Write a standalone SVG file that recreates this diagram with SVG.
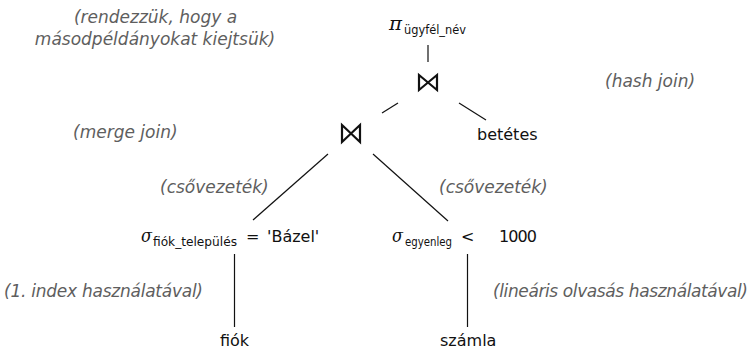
<svg xmlns="http://www.w3.org/2000/svg" width="751" height="349" viewBox="0 0 751 349">
<style>
.n{font-family:"DejaVu Sans",sans-serif;font-size:16px;fill:#111}
.m{font-family:"DejaVu Serif",serif;font-style:italic;font-size:19px;fill:#111}
.s{font-family:"DejaVu Sans",sans-serif;font-size:12.5px;fill:#111}
.a{font-family:"DejaVu Sans",sans-serif;font-style:oblique;font-size:17px;fill:#5e5e5e}
.c{stroke:#111;stroke-width:1.2;fill:none}
.j{stroke:#111;stroke-width:2.2;fill:none;stroke-linejoin:miter}
</style>
<rect width="751" height="349" fill="#fff"/>
<g id="connectors">
<line class="c" x1="428" y1="45" x2="428" y2="62"/>
<line class="c" x1="398" y1="103" x2="382" y2="113"/>
<line class="c" x1="459" y1="103" x2="486" y2="120"/>
<line class="c" x1="328" y1="154" x2="253" y2="220"/>
<line class="c" x1="373" y1="154" x2="448" y2="221"/>
<line class="c" x1="234.5" y1="254" x2="234.5" y2="327"/>
<line class="c" x1="467.5" y1="254" x2="467.5" y2="327"/>
</g>
<g id="proj">
<text class="m" x="389" y="30" textLength="13" lengthAdjust="spacingAndGlyphs">π</text>
<text class="s" x="404" y="34" textLength="62" lengthAdjust="spacingAndGlyphs">ügyfél_név</text>
</g>
<g id="join-hash">
<path class="j" d="M419,75 L419,90 L437,75 L437,90 Z"/>
</g>
<g id="join-merge">
<path class="j" d="M342,125 L342,142 L360,125 L360,142 Z"/>
</g>
<g id="betetes"><text class="n" x="477" y="140">betétes</text></g>
<g id="sel-fiok">
<text class="m" x="141" y="242" textLength="11" lengthAdjust="spacingAndGlyphs">σ</text>
<text class="s" x="153" y="246" textLength="84" lengthAdjust="spacingAndGlyphs">fiók_település</text>
<text class="n" x="246" y="242" font-size="18">=</text>
<text class="n" x="267" y="242">'Bázel'</text>
</g>
<g id="sel-szamla">
<text class="m" x="392" y="242" textLength="11" lengthAdjust="spacingAndGlyphs">σ</text>
<text class="s" x="405" y="246" textLength="47" lengthAdjust="spacingAndGlyphs">egyenleg</text>
<text class="n" x="461" y="242" font-size="18">&lt;</text>
<text class="n" x="499" y="242" textLength="38">1000</text>
</g>
<g id="fiok"><text class="n" x="220" y="346">fiók</text></g>
<g id="szamla"><text class="n" x="440" y="346">számla</text></g>
<g id="annotations">
<text class="a" x="155.5" y="23" text-anchor="middle">(rendezzük, hogy a</text>
<text class="a" x="155" y="45" text-anchor="middle">másodpéldányokat kiejtsük)</text>
<text class="a" x="605" y="87">(hash join)</text>
<text class="a" x="73" y="138">(merge join)</text>
<text class="a" x="160" y="193">(csővezeték)</text>
<text class="a" x="439" y="193">(csővezeték)</text>
<text class="a" x="4" y="297" textLength="199">(1. index használatával)</text>
<text class="a" x="493" y="297" textLength="255">(lineáris olvasás használatával)</text>
</g>
</svg>
